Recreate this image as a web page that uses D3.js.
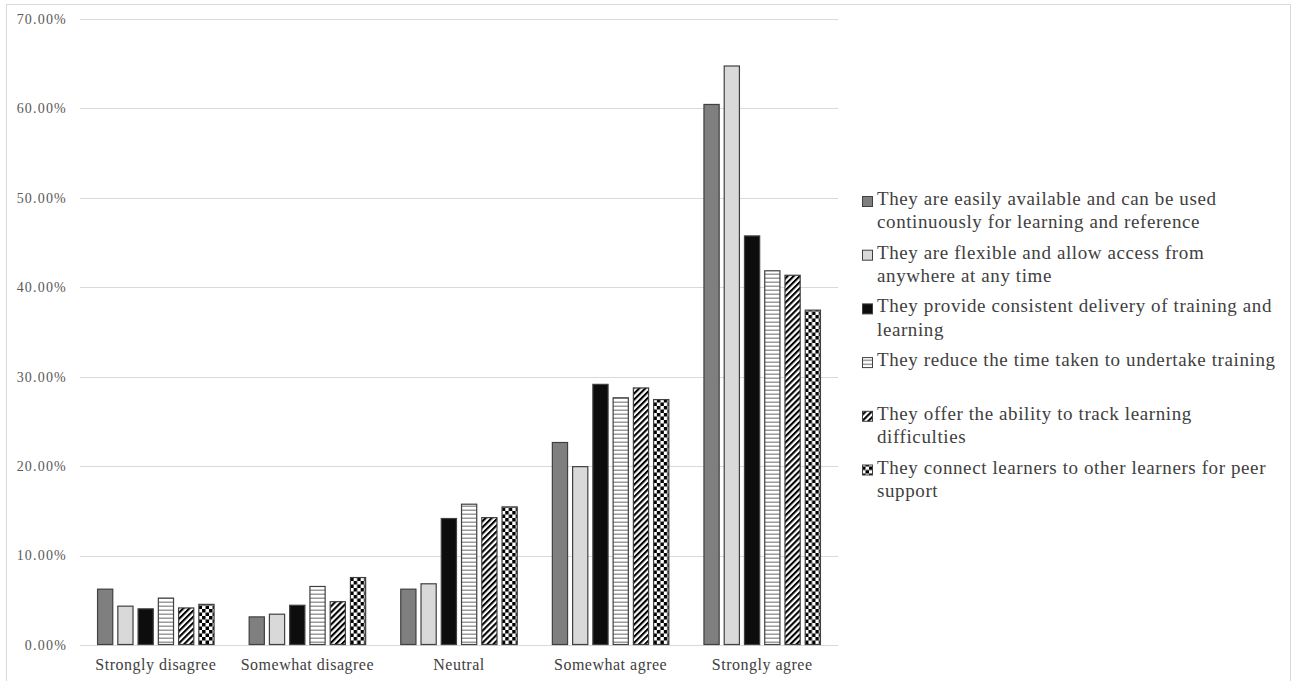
<!DOCTYPE html>
<html>
<head>
<meta charset="utf-8">
<script src="https://cdn.jsdelivr.net/npm/d3@7"></script>
<style>
  body { margin: 0; background: #fff; }
  svg text { font-family: "Liberation Serif", "Times New Roman", serif; }
</style>
</head>
<body>
<svg id="chart" width="1292" height="681"></svg>
<script>
let categories = ["Strongly disagree", "Somewhat disagree", "Neutral", "Somewhat agree", "Strongly agree"];

let seriesNames = [
  "They are easily available and can be used continuously for learning and reference",
  "They are flexible and allow access from anywhere at any time",
  "They provide consistent delivery of training and learning",
  "They reduce the time taken to undertake training",
  "They offer the ability to track learning difficulties",
  "They connect learners to other learners for peer support"
];

// legend text broken the way the original wraps it
let legendLines = [
  ["They are easily available and can be used", "continuously for learning and reference"],
  ["They are flexible and allow access from", "anywhere at any time"],
  ["They provide consistent delivery of training and", "learning"],
  ["They reduce the time taken to undertake training"],
  ["They offer the ability to track learning", "difficulties"],
  ["They connect learners to other learners for peer", "support"]
];

// percentages, one array per series, in category order
let available  = [6.3, 3.2, 6.3, 22.7, 60.5];
let flexible   = [4.4, 3.5, 6.9, 20.0, 64.8];
let consistent = [4.1, 4.5, 14.2, 29.2, 45.8];
let reduceTime = [5.3, 6.6, 15.8, 27.7, 41.9];
let track      = [4.2, 4.9, 14.3, 28.8, 41.4];
let connect    = [4.6, 7.6, 15.5, 27.5, 37.5];

let seriesValues = [available, flexible, consistent, reduceTime, track, connect];

let yTicks = [0, 10, 20, 30, 40, 50, 60, 70];

let svg = d3.select("#chart");

// patterns
let defs = svg.append("defs");

let hstripe = defs.append("pattern")
  .attr("id", "hstripe").attr("patternUnits", "userSpaceOnUse")
  .attr("width", 8).attr("height", 4);
hstripe.append("rect").attr("width", 8).attr("height", 4).attr("fill", "#fff");
hstripe.append("rect").attr("y", 1.5).attr("width", 8).attr("height", 1.5).attr("fill", "#9a9a9a");

let diag = defs.append("pattern")
  .attr("id", "diag").attr("patternUnits", "userSpaceOnUse")
  .attr("width", 4.3).attr("height", 8)
  .attr("patternTransform", "rotate(45)");
diag.append("rect").attr("width", 4.3).attr("height", 8).attr("fill", "#fff");
diag.append("rect").attr("width", 2.1).attr("height", 8).attr("fill", "#000");

let checker = defs.append("pattern")
  .attr("id", "checker").attr("patternUnits", "userSpaceOnUse")
  .attr("width", 7).attr("height", 7);
checker.append("rect").attr("width", 7).attr("height", 7).attr("fill", "#fff");
checker.append("rect").attr("width", 3.5).attr("height", 3.5).attr("fill", "#000");
checker.append("rect").attr("x", 3.5).attr("y", 3.5).attr("width", 3.5).attr("height", 3.5).attr("fill", "#000");

let fills = ["#7f7f7f", "#d9d9d9", "#0d0d0d", "url(#hstripe)", "url(#diag)", "url(#checker)"];

// outer border
svg.append("rect")
  .attr("x", 6.5).attr("y", 4.5)
  .attr("width", 1284).attr("height", 700)
  .attr("fill", "none").attr("stroke", "#d9d9d9");

let xScale = d3.scaleBand()
  .domain(categories)
  .range([80, 838])
  .paddingInner(0.225)
  .paddingOuter(0.1125);

let xInner = d3.scaleBand()
  .domain(d3.range(seriesNames.length))
  .range([0, xScale.bandwidth()])
  .paddingInner(0.2);

let yScale = d3.scaleLinear()
  .domain([0, 70])
  .range([645, 19]);

// gridlines
svg.append("g")
  .selectAll("line")
  .data(yTicks)
  .join("line")
  .attr("x1", 80).attr("x2", 838)
  .attr("y1", d => Math.round(yScale(d)) + 0.5)
  .attr("y2", d => Math.round(yScale(d)) + 0.5)
  .attr("stroke", "#d9d9d9");

// y axis labels
svg.append("g")
  .selectAll("text")
  .data(yTicks)
  .join("text")
  .attr("x", 67)
  .attr("y", d => yScale(d))
  .attr("dy", "0.35em")
  .attr("text-anchor", "end")
  .attr("font-size", 14)
  .attr("letter-spacing", 1.2)
  .attr("fill", "#595959")
  .text(d => d.toFixed(2) + "%");

// bars
let groups = svg.append("g")
  .selectAll("g")
  .data(categories)
  .join("g")
  .attr("transform", d => `translate(${xScale(d)},0)`);

groups.selectAll("rect")
  .data((c, ci) => seriesValues.map((vals, si) => ({ si: si, v: vals[ci] })))
  .join("rect")
  .attr("x", d => xInner(d.si) + 0.5)
  .attr("y", d => yScale(d.v) + 0.5)
  .attr("width", xInner.bandwidth() - 1)
  .attr("height", d => yScale(0) - yScale(d.v) - 1)
  .attr("fill", d => fills[d.si])
  .attr("stroke", "#404040")
  .attr("stroke-width", 1.2);

// x labels
svg.append("g")
  .selectAll("text")
  .data(categories)
  .join("text")
  .attr("x", d => xScale(d) + xScale.bandwidth() / 2)
  .attr("y", 670)
  .attr("text-anchor", "middle")
  .attr("font-size", 16)
  .attr("letter-spacing", 0.5)
  .attr("fill", "#404040")
  .text(d => d);

// legend
let legend = svg.append("g")
  .selectAll("g")
  .data(legendLines)
  .join("g")
  .attr("transform", (d, i) => `translate(862,${205 + i * 53.7})`);

legend.append("rect")
  .attr("x", 0.5).attr("y", -8.5)
  .attr("width", 10).attr("height", 10)
  .attr("fill", (d, i) => fills[i])
  .attr("stroke", "#404040");

legend.append("text")
  .attr("x", 15)
  .attr("font-size", 19)
  .attr("letter-spacing", 0.6)
  .attr("fill", "#404040")
  .selectAll("tspan")
  .data(d => d)
  .join("tspan")
  .attr("x", 15)
  .attr("dy", (d, i) => i === 0 ? 0 : 23.3)
  .text(d => d);
</script>
</body>
</html>
